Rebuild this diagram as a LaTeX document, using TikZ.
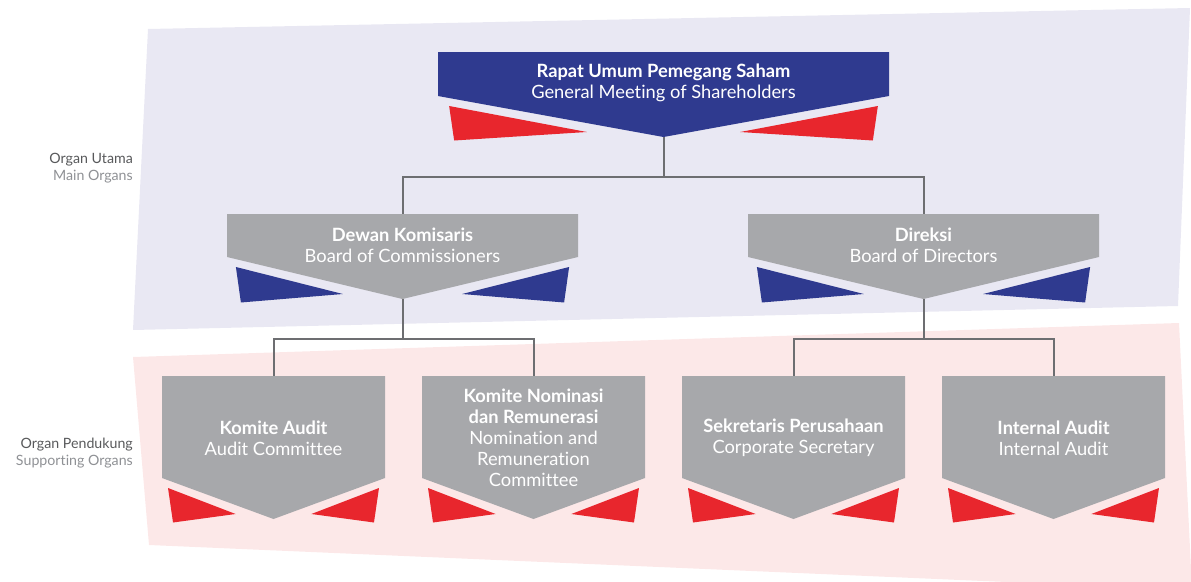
\documentclass[tikz,border=0pt]{standalone}
\usepackage{fontspec}
\setmainfont{Lato}[Ligatures={NoCommon}]
\definecolor{bgblue}{HTML}{E9E8F3}
\definecolor{bgpink}{HTML}{FCE8E8}
\definecolor{navy}{HTML}{2F3A8F}
\definecolor{redw}{HTML}{E8262D}
\definecolor{grayb}{HTML}{A7A8AB}
\definecolor{conncol}{HTML}{6D6E71}
\definecolor{labdark}{HTML}{58595B}
\definecolor{lablight}{HTML}{8F9195}
\newcommand\orgchev[8]{%
  \fill[#7] ({#2-#4},#3) -- ({#2+#4},#3) -- ({#2+#4},#5) -- (#2,#6) -- ({#2-#4},#5) -- cycle;
  \fill[#8] ({#2-#4+0.045*#4+1},{#5+10}) -- ({#2-0.34*#4},{#6-5}) -- ({#2-#4+0.045*#4+6},{#6+3.5}) -- cycle;
  \fill[#8] ({#2+#4-0.045*#4-1},{#5+10}) -- ({#2+0.34*#4},{#6-5}) -- ({#2+#4-0.045*#4-6},{#6+3.5}) -- cycle;
  \coordinate (#1-top) at (#2,#3);
  \coordinate (#1-tip) at (#2,#6);
}
\begin{document}
\begin{tikzpicture}[x=1pt,y=-1pt,
  boxtext/.style={align=center,text=white,font=\fontsize{18.3}{21}\selectfont,inner sep=0pt},
  conn/.style={draw=conncol,line width=2pt},
  sidelab/.style={anchor=east,align=right,inner sep=0pt,font=\fontsize{14.2}{17}\selectfont}]
\useasboundingbox (0,0) rectangle (1191,581);
\begin{scope}
\clip (0,0) rectangle (1191,581);
\fill[bgblue] (148,29) -- (1190,8) -- (1178,306) -- (133,330) -- cycle;
\fill[bgpink] (133,357) -- (1179,323) -- (1192,590) -- (149,545) -- cycle;
\end{scope}
% side labels
\node[sidelab] (lab1) at (133,168) {\textcolor{labdark}{Organ Utama}\\\textcolor{lablight}{Main Organs}};
\node[sidelab] (lab2) at (133,453) {\textcolor{labdark}{Organ Pendukung}\\\textcolor{lablight}{Supporting Organs}};
% shapes
\orgchev{rups}{663.5}{52}{225.5}{96}{137}{navy}{redw}
\orgchev{dk}{402.5}{214}{175.5}{257}{299}{grayb}{navy}
\orgchev{dr}{923.5}{214}{175.5}{257}{299}{grayb}{navy}
\orgchev{ka}{273.5}{376}{111.5}{478}{519}{grayb}{redw}
\orgchev{kn}{533.5}{376}{111.5}{478}{519}{grayb}{redw}
\orgchev{sp}{793.5}{376}{111.5}{478}{519}{grayb}{redw}
\orgchev{ia}{1053.5}{376}{111.5}{478}{519}{grayb}{redw}
% connectors
\coordinate (j1) at (663.5,177);
\coordinate (j2) at (402.5,339);
\coordinate (j3) at (923.5,339);
\draw[conn] (rups-tip) -- (j1);
\draw[conn] (j1) -| (dk-top);
\draw[conn] (j1) -| (dr-top);
\draw[conn] (dk-tip) -- (j2);
\draw[conn] (j2) -| (ka-top);
\draw[conn] (j2) -| (kn-top);
\draw[conn] (dr-tip) -- (j3);
\draw[conn] (j3) -| (sp-top);
\draw[conn] (j3) -| (ia-top);
% texts
\node[boxtext] (t-rups) at (663.5,83) {\textbf{Rapat Umum Pemegang Saham}\\General Meeting of Shareholders};
\node[boxtext] (t-dk) at (402.5,245) {\textbf{Dewan Komisaris}\\Board of Commissioners};
\node[boxtext] (t-dr) at (923.5,245) {\textbf{Direksi}\\Board of Directors};
\node[boxtext] (t-ka) at (273.5,438) {\textbf{Komite Audit}\\Audit Committee};
\node[boxtext] (t-kn) at (533.5,438) {\textbf{Komite Nominasi}\\\textbf{dan Remunerasi}\\Nomination and\\Remuneration\\Committee};
\node[boxtext] (t-sp) at (793.5,438) {\textbf{Sekretaris Perusahaan}\\Corporate Secretary};
\node[boxtext] (t-ia) at (1053.5,438) {\textbf{Internal Audit}\\Internal Audit};
\end{tikzpicture}
\end{document}
